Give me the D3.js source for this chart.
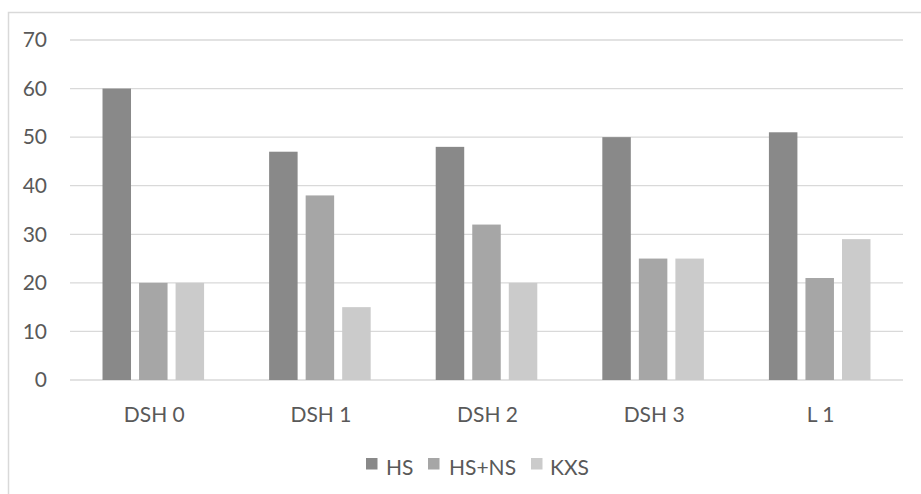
<!DOCTYPE html>
<html>
<head>
<meta charset="utf-8">
<script src="https://cdn.jsdelivr.net/npm/d3@7"></script>
<style>
  html, body { margin: 0; padding: 0; background: #fff; }
  svg { display: block; }
  text { font-family: Lato, "Open Sans", sans-serif; fill: #595959; }
</style>
</head>
<body>
<svg id="chart" width="921" height="494"></svg>
<script>
const categories = ["DSH 0", "DSH 1", "DSH 2", "DSH 3", "L 1"];
const seriesNames = ["HS", "HS+NS", "KXS"];
const hsValues = [60, 47, 48, 50, 51];
const hsnsValues = [20, 38, 32, 25, 21];
const kxsValues = [20, 15, 20, 25, 29];
const yTicks = [0, 10, 20, 30, 40, 50, 60, 70];
const colors = ["#898989", "#a6a6a6", "#cbcbcb"];

const seriesValues = [hsValues, hsnsValues, kxsValues];

const svg = d3.select("#chart");
const FONT = 21;

// outer chart border
svg.append("rect")
  .attr("x", 8.5).attr("y", 12.5)
  .attr("width", 940).attr("height", 500)
  .attr("fill", "none").attr("stroke", "#d9d9d9").attr("stroke-width", 1.5);

const plot = { left: 70, right: 903, top: 40, bottom: 380 };

const x = d3.scaleBand().domain(categories)
  .range([plot.left, plot.right]).paddingInner(0).paddingOuter(0);
const x1 = d3.scaleBand().domain(seriesNames)
  .range([0, x.bandwidth()]).paddingInner(0.22).paddingOuter(0.89);
const y = d3.scaleLinear().domain([0, 70]).range([plot.bottom, plot.top]);

// gridlines
svg.append("g").selectAll("line").data(yTicks).join("line")
  .attr("x1", plot.left).attr("x2", plot.right)
  .attr("y1", d => y(d)).attr("y2", d => y(d))
  .attr("stroke", "#d9d9d9").attr("stroke-width", 1.3);

// y-axis labels
const yAxis = d3.axisLeft(y).tickValues(yTicks).tickSize(0).tickPadding(0);
const yg = svg.append("g").attr("transform", `translate(47,0)`).call(yAxis);
yg.select(".domain").remove();
yg.selectAll("text").attr("font-size", FONT).attr("fill", "#595959")
  .style("font-family", 'Lato, sans-serif');

// bars
seriesNames.forEach((s, si) => {
  svg.append("g").selectAll("rect").data(categories).join("rect")
    .attr("x", c => x(c) + x1(s))
    .attr("width", x1.bandwidth())
    .attr("y", (c, i) => y(seriesValues[si][i]))
    .attr("height", (c, i) => y(0) - y(seriesValues[si][i]))
    .attr("fill", colors[si]);
});

// x-axis labels
const xAxis = d3.axisBottom(x).tickSize(0).tickPadding(0);
const xg = svg.append("g").attr("transform", `translate(1,${plot.bottom + 42})`).call(xAxis);
xg.select(".domain").remove();
xg.selectAll("text").attr("font-size", FONT).attr("fill", "#595959")
  .attr("dy", 0).attr("y", 0)
  .style("font-family", 'Lato, sans-serif');

// legend
const legendItems = [
  { name: "HS", sx: 366, tx: 386 },
  { name: "HS+NS", sx: 428, tx: 449 },
  { name: "KXS", sx: 531, tx: 550 }
];
const lg = svg.append("g");
legendItems.forEach((d, i) => {
  lg.append("rect").attr("x", d.sx).attr("y", 458).attr("width", 11.5).attr("height", 11.5)
    .attr("fill", colors[i]);
  lg.append("text").attr("x", d.tx).attr("y", 475)
    .attr("font-size", FONT).text(seriesNames[i]);
});
</script>
</body>
</html>
